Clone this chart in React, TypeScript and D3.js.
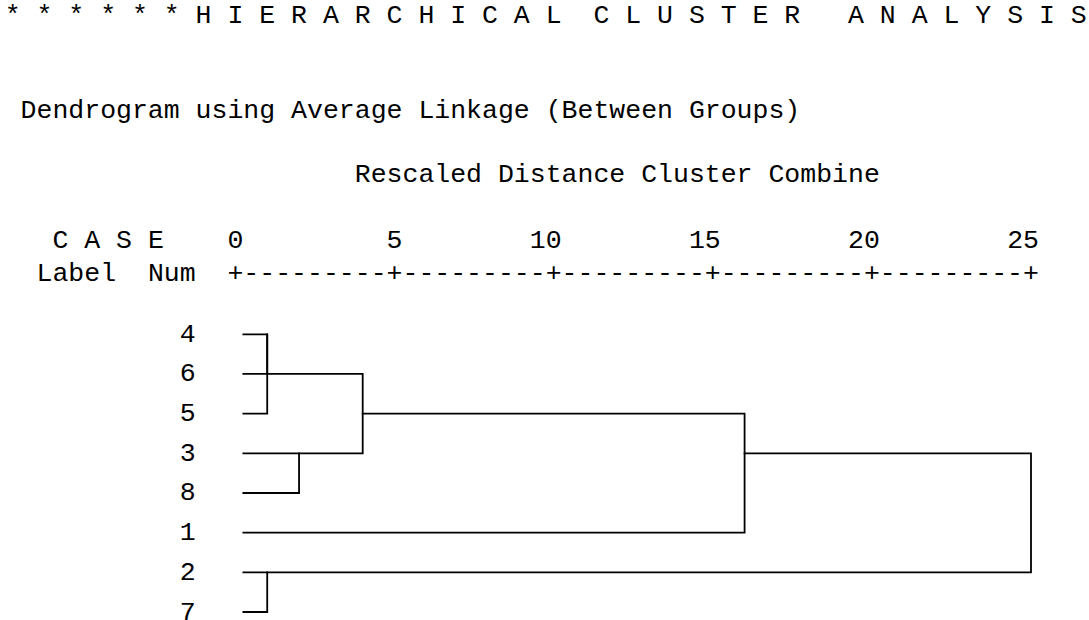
import React from "react";
import * as d3 from "d3";

// ---- data ----
const titleText = "* * * * * * H I E R A R C H I C A L  C L U S T E R   A N A L Y S I S";
const subtitleText = "Dendrogram using Average Linkage (Between Groups)";
const axisTitleText = "Rescaled Distance Cluster Combine";
const caseHeader = "C A S E";
const labelHeader = "Label";
const numHeader = "Num";

const caseLabels = ["4", "6", "5", "3", "8", "1", "2", "7"];
const tickValues = [0, 5, 10, 15, 20, 25];

// linkage table (rescaled distances)
const mergeIds = ["c1", "c2", "c3", "c4", "c5", "c6", "c7"];
const mergeLeft = ["4", "c1", "3", "c2", "c4", "2", "c5"];
const mergeRight = ["6", "5", "8", "c3", "1", "7", "c6"];
const mergeDistance = [1, 1, 2, 4, 16, 1, 25];

const W = 1089;
const H = 620;

export default function App() {
  const x = d3.scaleLinear().domain([0, 25]).range([235.4, 1031]);
  const y = d3
    .scalePoint<string>()
    .domain(caseLabels)
    .range([334.3, 612]);

  // one character cell: 5 distance units = 10 characters
  const charW = (x(25) - x(0)) / 50;
  const fontSize = charW / 0.6;
  const col = (i: number) => x(0) - (14.5 - i) * charW; // left edge of column i
  const font = "'Liberation Mono', 'Courier New', monospace";

  // build dendrogram segments
  type Node = { row: number; x: number };
  const nodes: Record<string, Node> = {};
  caseLabels.forEach((c, i) => {
    nodes[c] = { row: i, x: x(0) + charW / 2 };
  });
  const rowY = (r: number) => y(caseLabels[r]) as number;
  const segs: string[] = [];
  mergeIds.forEach((id, i) => {
    const a = nodes[mergeLeft[i]];
    const b = nodes[mergeRight[i]];
    const xm = x(mergeDistance[i]);
    const p = d3.path();
    if (xm > a.x) {
      p.moveTo(a.x, rowY(a.row));
      p.lineTo(xm, rowY(a.row));
    }
    if (xm > b.x) {
      p.moveTo(b.x, rowY(b.row));
      p.lineTo(xm, rowY(b.row));
    }
    const r0 = Math.min(a.row, b.row);
    const r1 = Math.max(a.row, b.row);
    p.moveTo(xm, rowY(r0));
    p.lineTo(xm, rowY(r1));
    segs.push(p.toString());
    nodes[id] = { row: Math.floor((a.row + b.row) / 2), x: xm };
  });

  // axis ruler "+---------+..."
  let ruler = "";
  tickValues.forEach((t, i) => {
    ruler += "+";
    if (i < tickValues.length - 1) {
      const n = Math.round((x(tickValues[i + 1]) - x(t)) / charW) - 1;
      ruler += "-".repeat(n);
    }
  });

  const textStyle: React.CSSProperties = { whiteSpace: "pre" };

  return (
    <svg
      width={W}
      height={H}
      viewBox={`0 0 ${W} ${H}`}
      style={{ position: "absolute", left: 0, top: 0, background: "#fff" }}
      fontFamily={font}
      fontSize={fontSize}
    >
      <rect width={W} height={H} fill="#fff" />
      <text x={col(0)} y={23.3} style={textStyle} xmlSpace="preserve" fill="#000">
        {titleText}
      </text>
      <text x={col(1)} y={118} style={textStyle} xmlSpace="preserve" fill="#000">
        {subtitleText}
      </text>
      <text x={col(22)} y={182} style={textStyle} xmlSpace="preserve" fill="#000">
        {axisTitleText}
      </text>
      <text x={col(3)} y={248} style={textStyle} xmlSpace="preserve" fill="#000">
        {caseHeader}
      </text>
      {tickValues.map((t) => (
        <text
          key={t}
          x={x(t) + charW / 2}
          y={248}
          textAnchor="end"
          fill="#000"
        >
          {String(t)}
        </text>
      ))}
      <text x={col(2)} y={281} fill="#000">
        {labelHeader}
      </text>
      <text x={col(9)} y={281} fill="#000">
        {numHeader}
      </text>
      <text x={x(0) - charW / 2} y={281} style={textStyle} fill="#000">
        {ruler}
      </text>
      {caseLabels.map((c) => (
        <text
          key={c}
          x={x(0) - 3 * charW}
          y={(y(c) as number) + 7.5}
          textAnchor="middle"
          fill="#000"
        >
          {c}
        </text>
      ))}
      <g fill="none" stroke="#000" strokeWidth={1.8} strokeLinecap="square">
        {segs.map((d, i) => (
          <path key={i} d={d} />
        ))}
      </g>
    </svg>
  );
}
